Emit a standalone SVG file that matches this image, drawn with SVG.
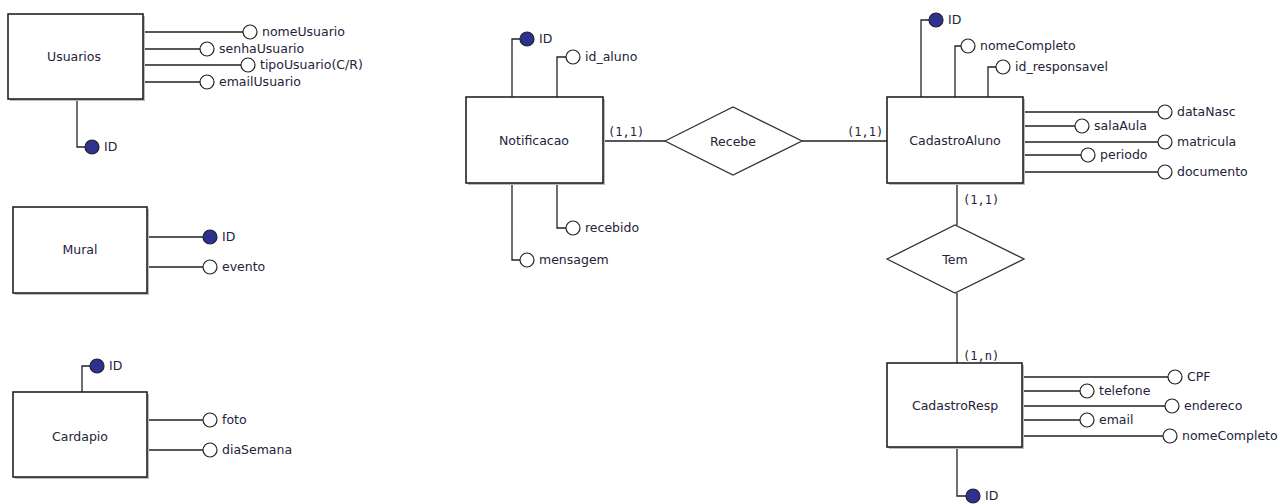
<svg xmlns="http://www.w3.org/2000/svg" width="1280" height="504" viewBox="0 0 1280 504">
<style>
.ent{fill:#fff;stroke:#222;stroke-width:1.6}
.sh{fill:#bbb}
.rel{fill:#fff;stroke:#333;stroke-width:1.3}
.ln{fill:none;stroke:#222;stroke-width:1.3}
.at{fill:#fff;stroke:#222;stroke-width:1.2}
.pk{fill:#2e3192;stroke:#222;stroke-width:1.2}
.t{font-family:"DejaVu Sans",Verdana,sans-serif;font-size:12.5px;fill:#23233a}
.n{font-family:"DejaVu Sans",Verdana,sans-serif;font-size:12.5px;fill:#23233a;text-anchor:middle}
.c{font-family:"DejaVu Sans Mono","Liberation Mono",monospace;font-size:12px;fill:#23233a}
</style>
<rect width="1280" height="504" fill="#fff"/>
<g id="connectors">
<path class="ln" d="M143,32H243M143,49H200M143,65H241M143,82H200M77,99V147H85"/>
<path class="ln" d="M147,237H203M147,267H203"/>
<path class="ln" d="M82,392V366H90M147,420H203M147,450H203"/>
<path class="ln" d="M512,97V39H520M557,97V57H566M557,183V228H566M512,183V260H520"/>
<path class="ln" d="M603,141H665M802,141H887"/>
<path class="ln" d="M921,97V20H929M955,97V46H961M988,97V67H996"/>
<path class="ln" d="M1023,112H1158M1023,126H1075M1023,142H1158M1023,155H1081M1023,172H1158"/>
<path class="ln" d="M957,183V225M957,293V363"/>
<path class="ln" d="M1022,377H1168M1022,391H1080M1022,406H1165M1022,420H1080M1022,436H1163M957,447V496H966"/>
<text class="c" x="608" y="136">(1,1)</text>
<text class="c" x="847" y="136">(1,1)</text>
<text class="c" x="963" y="204">(1,1)</text>
<text class="c" x="963" y="360">(1,n)</text>
</g>
<g id="Usuarios">
<rect class="sh" x="10" y="16" width="135" height="85"/>
<rect class="ent" x="8" y="14" width="135" height="85"/>
<text class="n" x="74" y="61">Usuarios</text>
<circle class="at" cx="250" cy="32" r="7"/><text class="t" x="262" y="36">nomeUsuario</text>
<circle class="at" cx="207" cy="49" r="7"/><text class="t" x="219" y="53">senhaUsuario</text>
<circle class="at" cx="248" cy="65" r="7"/><text class="t" x="260" y="69">tipoUsuario(C/R)</text>
<circle class="at" cx="207" cy="82" r="7"/><text class="t" x="219" y="86">emailUsuario</text>
<circle class="pk" cx="92" cy="147" r="7"/><text class="t" x="104" y="151">ID</text>
</g>
<g id="Mural">
<rect class="sh" x="15" y="209" width="134" height="86"/>
<rect class="ent" x="13" y="207" width="134" height="86"/>
<text class="n" x="80" y="254">Mural</text>
<circle class="pk" cx="210" cy="237" r="7"/><text class="t" x="222" y="241">ID</text>
<circle class="at" cx="210" cy="267" r="7"/><text class="t" x="222" y="271">evento</text>
</g>
<g id="Cardapio">
<rect class="sh" x="15" y="394" width="134" height="85"/>
<rect class="ent" x="13" y="392" width="134" height="85"/>
<text class="n" x="80" y="441">Cardapio</text>
<circle class="pk" cx="97" cy="366" r="7"/><text class="t" x="109" y="370">ID</text>
<circle class="at" cx="210" cy="420" r="7"/><text class="t" x="222" y="424">foto</text>
<circle class="at" cx="210" cy="450" r="7"/><text class="t" x="222" y="454">diaSemana</text>
</g>
<g id="Notificacao">
<rect class="sh" x="468" y="99" width="137" height="86"/>
<rect class="ent" x="466" y="97" width="137" height="86"/>
<text class="n" x="534" y="145">Notificacao</text>
<circle class="pk" cx="527" cy="39" r="7"/><text class="t" x="539" y="43">ID</text>
<circle class="at" cx="573" cy="57" r="7"/><text class="t" x="585" y="61">id_aluno</text>
<circle class="at" cx="573" cy="228" r="7"/><text class="t" x="585" y="232">recebido</text>
<circle class="at" cx="527" cy="260" r="7"/><text class="t" x="539" y="264">mensagem</text>
</g>
<g id="Recebe">
<polygon class="rel" points="665,141 733,107 802,141 733,175"/>
<text class="n" x="733" y="146">Recebe</text>
</g>
<g id="CadastroAluno">
<rect class="sh" x="889" y="99" width="136" height="86"/>
<rect class="ent" x="887" y="97" width="136" height="86"/>
<text class="n" x="955" y="145">CadastroAluno</text>
<circle class="pk" cx="936" cy="20" r="7"/><text class="t" x="948" y="24">ID</text>
<circle class="at" cx="968" cy="46" r="7"/><text class="t" x="980" y="50">nomeCompleto</text>
<circle class="at" cx="1003" cy="67" r="7"/><text class="t" x="1015" y="71">id_responsavel</text>
<circle class="at" cx="1165" cy="112" r="7"/><text class="t" x="1177" y="116">dataNasc</text>
<circle class="at" cx="1082" cy="126" r="7"/><text class="t" x="1094" y="130">salaAula</text>
<circle class="at" cx="1165" cy="142" r="7"/><text class="t" x="1177" y="146">matricula</text>
<circle class="at" cx="1088" cy="155" r="7"/><text class="t" x="1100" y="159">periodo</text>
<circle class="at" cx="1165" cy="172" r="7"/><text class="t" x="1177" y="176">documento</text>
</g>
<g id="Tem">
<polygon class="rel" points="887,259 955,225 1024,259 955,293"/>
<text class="n" x="955" y="264">Tem</text>
</g>
<g id="CadastroResp">
<rect class="sh" x="889" y="365" width="135" height="84"/>
<rect class="ent" x="887" y="363" width="135" height="84"/>
<text class="n" x="955" y="410">CadastroResp</text>
<circle class="at" cx="1175" cy="377" r="7"/><text class="t" x="1187" y="381">CPF</text>
<circle class="at" cx="1087" cy="391" r="7"/><text class="t" x="1099" y="395">telefone</text>
<circle class="at" cx="1172" cy="406" r="7"/><text class="t" x="1184" y="410">endereco</text>
<circle class="at" cx="1087" cy="420" r="7"/><text class="t" x="1099" y="424">email</text>
<circle class="at" cx="1170" cy="436" r="7"/><text class="t" x="1182" y="440">nomeCompleto</text>
<circle class="pk" cx="973" cy="496" r="7"/><text class="t" x="985" y="500">ID</text>
</g>
</svg>
